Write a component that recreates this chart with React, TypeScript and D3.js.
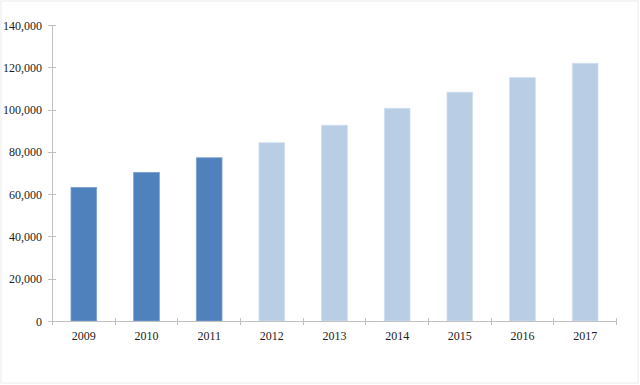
import React from "react";
import * as d3 from "d3";

const years = ["2009", "2010", "2011", "2012", "2013", "2014", "2015", "2016", "2017"];
const values = [63200, 70300, 77200, 84300, 92600, 100600, 108200, 115100, 121900];
const actualYears = ["2009", "2010", "2011"];
const yTicks = [0, 20000, 40000, 60000, 80000, 100000, 120000, 140000];

const W = 640;
const H = 385;
const left = 52;
const right = 616;
const top = 25;
const bottom = 321;

export default function App() {
  const x = d3.scaleBand<string>().domain(years).range([left, right]).paddingInner(0).paddingOuter(0);
  const y = d3.scaleLinear().domain([0, 140000]).range([bottom, top]);
  const bw = x.step() * 0.41;
  const fmt = d3.format(",");
  const axisColor = "#c0c0c0";
  const font = "'Liberation Serif', 'Times New Roman', serif";
  const boundaries = [...years.map((yr) => x(yr) as number), right];

  return (
    <svg width={W} height={H} style={{ position: "absolute", left: 0, top: 0 }}>
      <rect x={0} y={0} width={W} height={H} fill="#fff" />
      <rect x={1} y={1} width={637} height={382} fill="none" stroke="#ececec" strokeWidth={1} />
      {years.map((yr, i) => {
        const cx = (x(yr) as number) + x.bandwidth() / 2 + 0.5;
        const actual = actualYears.includes(yr);
        return (
          <rect
            key={yr}
            x={cx - bw / 2}
            y={y(values[i])}
            width={bw}
            height={bottom - y(values[i])}
            fill={actual ? "#4f81bd" : "#b9cde5"}
            stroke={actual ? "#7da0cc" : "#d0def0"}
            strokeWidth={0.8}
          />
        );
      })}
      <line x1={left + 0.5} x2={left + 0.5} y1={top} y2={bottom} stroke={axisColor} strokeWidth={1} />
      <line x1={left} x2={right} y1={bottom + 0.5} y2={bottom + 0.5} stroke={axisColor} strokeWidth={1} />
      {yTicks.map((t) => (
        <g key={t}>
          <line x1={left - 4} x2={left + 4} y1={Math.round(y(t)) + 0.5} y2={Math.round(y(t)) + 0.5} stroke={axisColor} />
          <text x={42} y={y(t)} dy="0.38em" textAnchor="end" fontFamily={font} fontSize={12} fill="#222">
            {fmt(t)}
          </text>
        </g>
      ))}
      {boundaries.map((b, i) => (
        <line key={i} x1={Math.round(b) + 0.5} x2={Math.round(b) + 0.5} y1={bottom - 3} y2={bottom + 4} stroke={axisColor} />
      ))}
      {years.map((yr) => (
        <text key={yr} x={(x(yr) as number) + x.bandwidth() / 2 + 0.5} y={340} textAnchor="middle" fontFamily={font} fontSize={12} fill="#222">
          {yr}
        </text>
      ))}
    </svg>
  );
}
